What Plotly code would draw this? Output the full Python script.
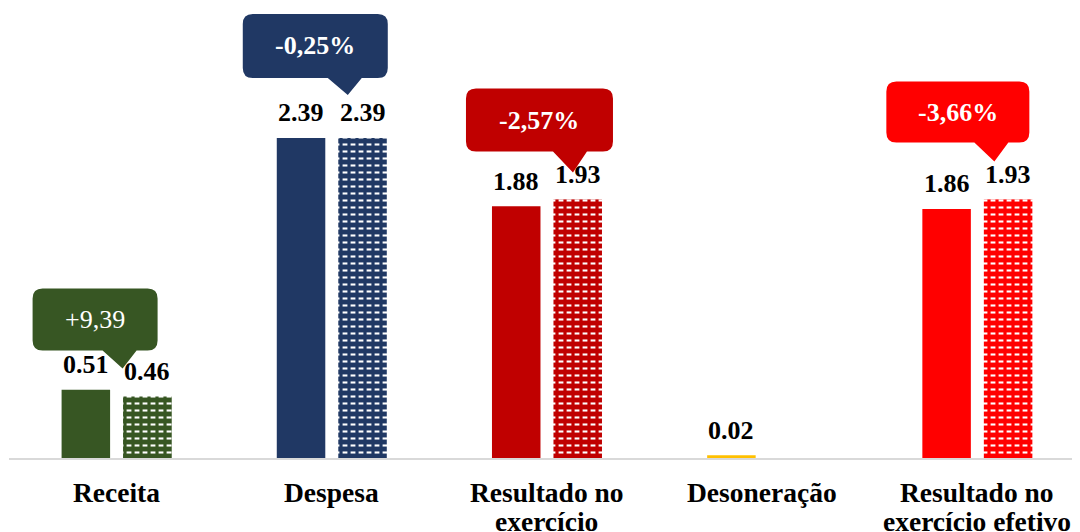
import plotly.graph_objects as go

# ---------------- data ----------------
categories = ["Receita", "Despesa", "Resultado no exercício", "Desoneração",
              "Resultado no exercício efetivo"]
label_line1 = ["Receita", "Despesa", "Resultado no", "Desoneração", "Resultado no"]
label_line2 = ["", "", "exercício", "", "exercício efetivo"]
values_solid = [0.51, 2.39, 1.88, 0.02, 1.86]
values_pattern = [0.46, 2.39, 1.93, None, 1.93]
variations = ["+9,39", "-0,25%", "-2,57%", None, "-3,66%"]

# ---------------- styles ----------------
colors = ["#375623", "#203864", "#C00000", "#FFC000", "#FF0000"]
variation_bold = [False, True, True, None, True]
FONT = "Liberation Serif, Times New Roman, serif"
W, H = 1072, 524          # page adds an 8px body margin
ML, MR, MT, MB = 1, 0, 0, 74
XR = [-0.5, 4.477]
YR = [0, 3.36]
SLOT = 0.2858             # centre-to-centre distance of the two bars, category units
BARW = 0.2254             # bar width in category units
# callout geometry (px): left, right rel. to category centre; bottom, top above pattern-bar top; tip x, tip up
callout_geo = [(-84, 41, 46, 108, 6, 28), (-89, 56, 60, 124, 16, 43), (-81, 66, 48, 111, 26, 27),
               None, (-91, 52, 57, 118, 17, 38)]

idx = list(range(len(categories)))
cat_px = (W - ML - MR) / (XR[1] - XR[0])
slot_off = SLOT * cat_px / 2
off_solid = -SLOT / 2 - BARW / 2
off_pat = SLOT / 2 - BARW / 2

fig = go.Figure()
fig.add_trace(go.Bar(x=idx, y=values_solid, width=BARW, offset=off_solid,
                     marker=dict(color=colors, line=dict(width=0)), hoverinfo="skip"))
# patterned bars: white horizontal stripes, then cut into dashes by coloured vertical stripes
for i in idx:
    v = values_pattern[i]
    if v is None:
        continue
    fig.add_trace(go.Bar(x=[i], y=[v], width=BARW, offset=off_pat,
                         marker=dict(color=colors[i], line=dict(width=0),
                                     pattern=dict(shape="-", fgcolor="#ffffff", bgcolor=colors[i],
                                                  size=7, solidity=0.3, fillmode="replace")),
                         hoverinfo="skip"))
    fig.add_trace(go.Bar(x=[i], y=[v], width=BARW, offset=off_pat,
                         marker=dict(color=colors[i], line=dict(width=0),
                                     pattern=dict(shape="|", fgcolor=colors[i],
                                                  bgcolor="rgba(255,255,255,0)",
                                                  size=8, solidity=0.4, fillmode="replace")),
                         hoverinfo="skip"))

ann = []
for i in idx:
    for vals, sign in ((values_solid, -1), (values_pattern, 1)):
        v = vals[i]
        if v is None:
            continue
        ann.append(dict(x=i, y=v, xref="x", yref="y", text=f"<b>{v:.2f}</b>", showarrow=False,
                        xshift=sign * slot_off, yshift=25, yanchor="middle",
                        font=dict(family=FONT, size=26, color="black")))
    ann.append(dict(x=i, y=0, xref="x", yref="y", text=f"<b>{label_line1[i]}</b>", showarrow=False,
                    yshift=-34, yanchor="middle",
                    font=dict(family=FONT, size=27.5, color="black")))
    if label_line2[i]:
        ann.append(dict(x=i, y=0, xref="x", yref="y", text=f"<b>{label_line2[i]}</b>",
                        showarrow=False, yshift=-63, yanchor="middle",
                        font=dict(family=FONT, size=27.5, color="black")))

shapes = []
r = 10
for i in idx:
    g = callout_geo[i]
    if g is None or variations[i] is None:
        continue
    L, R, B, T, tx, tu = g
    v = values_pattern[i]
    path = (f"M {L + r},{T} L {R - r},{T} Q {R},{T} {R},{T - r} L {R},{B + r} Q {R},{B} {R - r},{B} "
            f"L {tx + 14},{B} L {tx},{tu} L {tx - 20},{B} L {L + r},{B} Q {L},{B} {L},{B + r} "
            f"L {L},{T - r} Q {L},{T} {L + r},{T} Z")
    shapes.append(dict(type="path", path=path, xref="x", yref="y", xsizemode="pixel",
                       ysizemode="pixel", xanchor=i, yanchor=v, fillcolor=colors[i],
                       line=dict(width=0), layer="above"))
    txt = f"<b>{variations[i]}</b>" if variation_bold[i] else variations[i]
    ann.append(dict(x=i, y=v, xref="x", yref="y", text=txt, showarrow=False,
                    xshift=(L + R) / 2, yshift=(B + T) / 2, yanchor="middle",
                    font=dict(family=FONT, size=26, color="white")))

fig.update_layout(
    width=W, height=H, margin=dict(l=ML, r=MR, t=MT, b=MB),
    barmode="overlay",
    plot_bgcolor="white", paper_bgcolor="white", showlegend=False,
    xaxis=dict(type="linear", range=XR, showline=True, linecolor="#d9d9d9", linewidth=2,
               showgrid=False, zeroline=False, showticklabels=False, ticks=""),
    yaxis=dict(range=YR, visible=False, showgrid=False, zeroline=False),
    annotations=ann, shapes=shapes,
)

fig.write_html("out.html")
